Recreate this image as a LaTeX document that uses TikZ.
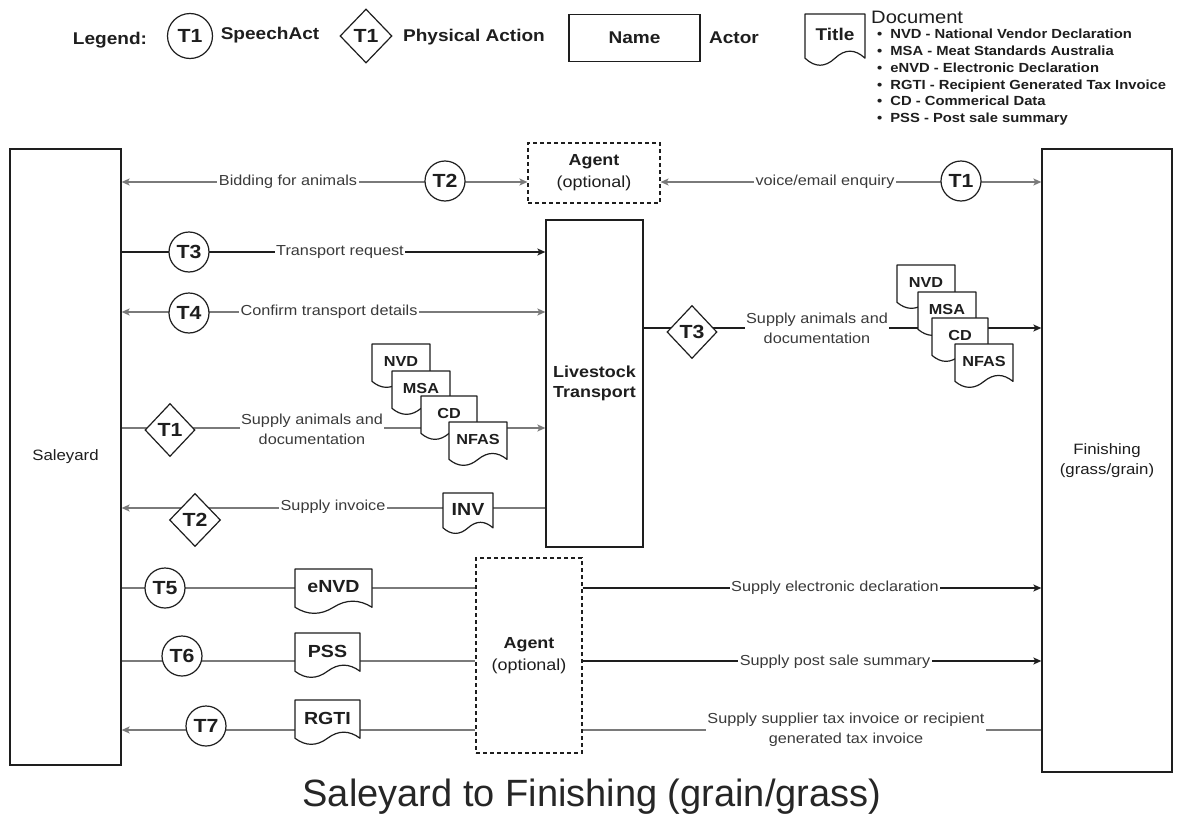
\documentclass[tikz,border=0pt]{standalone}
\usepackage{fontspec}
\setmainfont[FakeStretch=1.12]{Liberation Sans}
\newfontfamily\plainsans{Liberation Sans}
\usetikzlibrary{shapes.geometric,arrows.meta,backgrounds}

\pgfdeclarelayer{paper}
\pgfsetlayers{paper,background,main}

\definecolor{inkdark}{HTML}{1E1E1E}
\definecolor{inkgray}{HTML}{7A7A7A}
\definecolor{labelgray}{HTML}{3A3A3A}

% font sizes (1pt = 1 unit of the drawing grid)
\newcommand\fsLbl{\fontsize{14.5}{20}\selectfont}
\newcommand\fsTee{\fontsize{19}{22}\selectfont\bfseries}
\newcommand\fsLeg{\fontsize{17}{20}\selectfont\bfseries}
\newcommand\fsActor{\fontsize{15}{20}\selectfont}
\newcommand\fsBoldBox{\fontsize{16}{20}\selectfont\bfseries}
\newcommand\fsAgent{\fontsize{16}{22}\selectfont}
\newcommand\fsDocS{\fontsize{14.5}{17}\selectfont\bfseries}
\newcommand\fsDocL{\fontsize{17.5}{20}\selectfont\bfseries}
\newcommand\fsList{\fontsize{13.2}{16.8}\selectfont\bfseries}
\newcommand\fsHead{\plainsans\fontsize{38}{44}\selectfont}

\tikzset{
  actor/.style={draw=inkdark, line width=1.3pt, rectangle, inner sep=0pt, text=inkdark, align=center},
  agentbox/.style={draw=inkdark, line width=1.2pt, dash pattern=on 4pt off 3pt, rectangle,
    fill=white, inner sep=0pt, align=center, text=inkdark, font=\fsAgent},
  speech/.style={circle, draw=inkdark, line width=1.2pt, fill=white, minimum size=40pt,
    inner sep=0pt, font=\fsTee, text=inkdark},
  physact/.style={diamond, draw=inkdark, line width=1.2pt, fill=white, minimum width=50pt,
    minimum height=53pt, inner sep=0pt, font=\fsTee, text=inkdark},
  flowlbl/.style={fill=white, inner sep=1.5pt, font=\fsLbl, text=labelgray, align=center},
  grayflow/.style={draw=inkgray, line width=1.3pt},
  darkflow/.style={draw=inkdark, line width=1.3pt},
  headend/.style={-{Stealth[length=8pt,width=7pt,inset=2pt]}},
  headboth/.style={{Stealth[length=8pt,width=7pt,inset=2pt]}-{Stealth[length=8pt,width=7pt,inset=2pt]}},
  docline/.style={draw=inkdark, line width=1.2pt, fill=white, line join=round},
  docbox/.style={inner sep=0pt, text=inkdark},
  plaintxt/.style={inner sep=0pt, text=inkdark},
}

% document symbol: #1 name, #2 left, #3 top, #4 width, #5 height, #6 font, #7 text
\newcommand\mkdoc[7]{%
  \draw[docline] (#2,#3) -- ({#2+#4},#3) -- ({#2+#4},{#3+0.85*#5})
    .. controls ({#2+0.8333*#4},{#3+0.67*#5}) and ({#2+0.6667*#4},{#3+0.67*#5}) .. ({#2+0.5*#4},{#3+0.85*#5})
    .. controls ({#2+0.3333*#4},{#3+1.03*#5}) and ({#2+0.1667*#4},{#3+1.03*#5}) .. (#2,{#3+0.85*#5}) -- cycle;
  \node[docbox, font=#6, minimum width=#4pt, minimum height={0.8*#5pt}] (#1) at ({#2+0.5*#4},{#3+0.4*#5}) {#7};
}

\begin{document}
\begin{tikzpicture}[x=1pt,y=-1pt]
\begin{pgfonlayer}{paper}
  \fill[white] (0,0) rectangle (1184,827);
\end{pgfonlayer}
\useasboundingbox (0,0) rectangle (1184,827);

% ---------- legend ----------
\node[plaintxt, font=\fsLeg] (legTitle) at (110,40) {Legend:};
\node[speech, minimum size=45pt] (legSpeech) at (190,36) {T1};
\node[plaintxt, font=\fsLeg] (legSpeechTxt) at (270,35) {SpeechAct};
\node[physact, minimum width=52pt, minimum height=54pt] (legPhys) at (366,36) {T1};
\node[plaintxt, font=\fsLeg] (legPhysTxt) at (474,37) {Physical Action};
\node[actor, minimum width=131pt, minimum height=47pt, font=\fsLeg] (legActor) at (634.5,38) {Name};
\node[plaintxt, font=\fsLeg] (legActorTxt) at (734,38) {Actor};
\mkdoc{legDoc}{805}{14}{60}{52}{\fsLeg}{Title}
\node[plaintxt, anchor=west, font=\fontsize{18}{20}\selectfont] (legDocTxt) at (871,17) {Document};
\node[plaintxt, anchor=north west, align=left, font=\fsList] (legDocList) at (877,29) {%
  \textbullet\hspace{8pt}NVD - National Vendor Declaration\\
  \textbullet\hspace{8pt}MSA - Meat Standards Australia\\
  \textbullet\hspace{8pt}eNVD - Electronic Declaration\\
  \textbullet\hspace{8pt}RGTI - Recipient Generated Tax Invoice\\
  \textbullet\hspace{8pt}CD - Commerical Data\\
  \textbullet\hspace{8pt}PSS - Post sale summary};

% ---------- actors ----------
\node[actor, minimum width=111pt, minimum height=616pt, font=\fsActor] (saley) at (65.5,457) {Saleyard};
\node[actor, minimum width=130pt, minimum height=623pt, font=\fsActor] (finish) at (1107,460.5) {Finishing\\(grass/grain)};
\node[agentbox, minimum width=132pt, minimum height=60pt] (agentA) at (594,173) {\textbf{Agent}\\(optional)};
\node[actor, minimum width=97pt, minimum height=327pt, font=\fsBoldBox] (livest) at (594.5,383.5) {Livestock\\Transport};
\node[agentbox, minimum width=106pt, minimum height=195pt] (agentB) at (529,655.5) {\textbf{Agent}\\(optional)};

% row heights of the flows
\coordinate (r1) at (0,182);
\coordinate (r2) at (0,252);
\coordinate (r3) at (0,312);
\coordinate (r4) at (0,428);
\coordinate (r5) at (0,508);
\coordinate (rt) at (0,328);
\coordinate (r6) at (0,588);
\coordinate (r7) at (0,661);
\coordinate (r8) at (0,730);

% ---------- transactions ----------
\node[speech] (tBid) at (445,181) {T2};
\node[speech] (tEnq) at (961,181) {T1};
\node[speech] (tReq) at (189,252) {T3};
\node[speech] (tConf) at (189,313) {T4};
\node[physact] (tSupL) at (170,430) {T1};
\node[physact, minimum width=51pt] (tInv) at (195,520) {T2};
\node[physact] (tSupR) at (692,332) {T3};
\node[speech] (tEnvd) at (165,588) {T5};
\node[speech] (tPss) at (182,656) {T6};
\node[speech] (tRgti) at (206,726) {T7};

% ---------- flow labels ----------
\node[flowlbl] (lBid) at (288,182) {Bidding for animals};
\node[flowlbl] (lEnq) at (825,182) {voice/email enquiry};
\node[flowlbl] (lReq) at (340,252) {Transport request};
\node[flowlbl] (lConf) at (329,312) {Confirm transport details};
\node[flowlbl] (lSupL) at (312,429) {Supply animals and\\documentation};
\node[flowlbl] (lSupR) at (817,328) {Supply animals and\\documentation};
\node[flowlbl] (lInv) at (333,507) {Supply invoice};
\node[flowlbl] (lEnvd) at (835,588) {Supply electronic declaration};
\node[flowlbl] (lPss) at (835,662) {Supply post sale summary};
\node[flowlbl] (lRgti) at (846,730) {Supply supplier tax invoice or recipient\\generated tax invoice};

% ---------- documents ----------
\mkdoc{dNvdL}{372}{344}{58}{44}{\fsDocS}{NVD}
\mkdoc{dMsaL}{392}{371}{58}{44}{\fsDocS}{MSA}
\mkdoc{dCdL}{421}{396}{56}{44}{\fsDocS}{CD}
\mkdoc{dNfasL}{449}{422}{58}{44}{\fsDocS}{NFAS}
\mkdoc{dNvdR}{897}{265}{58}{44}{\fsDocS}{NVD}
\mkdoc{dMsaR}{918}{292}{58}{44}{\fsDocS}{MSA}
\mkdoc{dCdR}{932}{318}{56}{44}{\fsDocS}{CD}
\mkdoc{dNfasR}{955}{344}{58}{44}{\fsDocS}{NFAS}
\mkdoc{dInv}{443}{493}{50}{41}{\fsDocL}{INV}
\mkdoc{dEnvd}{295}{569}{77}{45}{\fsDocL}{eNVD}
\mkdoc{dPss}{295}{633}{65}{45}{\fsDocL}{PSS}
\mkdoc{dRgti}{295}{700}{65}{45}{\fsDocL}{RGTI}

% ---------- connectors ----------
\begin{scope}[on background layer]
  \draw[grayflow, headboth] (saley.east |- r1) -- (agentA.west |- r1);
  \draw[grayflow, headboth] (agentA.east |- r1) -- (finish.west |- r1);
  \draw[darkflow, headend] (saley.east |- r2) -- (livest.west |- r2);
  \draw[grayflow, headboth] (saley.east |- r3) -- (livest.west |- r3);
  \draw[grayflow, headend] (saley.east |- r4) -- (livest.west |- r4);
  \draw[grayflow, headend] (livest.west |- r5) -- (saley.east |- r5);
  \draw[darkflow, headend] (livest.east |- rt) -- (finish.west |- rt);
  \draw[grayflow] (saley.east |- r6) -- (agentB.west |- r6);
  \draw[darkflow, headend] (agentB.east |- r6) -- (finish.west |- r6);
  \draw[grayflow] (saley.east |- r7) -- (agentB.west |- r7);
  \draw[darkflow, headend] (agentB.east |- r7) -- (finish.west |- r7);
  \draw[grayflow, headend] (agentB.west |- r8) -- (saley.east |- r8);
  \draw[grayflow] (agentB.east |- r8) -- (finish.west |- r8);
\end{scope}

% ---------- heading ----------
\node[plaintxt, font=\fsHead, text=black!85] (heading) at (592,797) {Saleyard to Finishing (grain/grass)};
\end{tikzpicture}
\end{document}
